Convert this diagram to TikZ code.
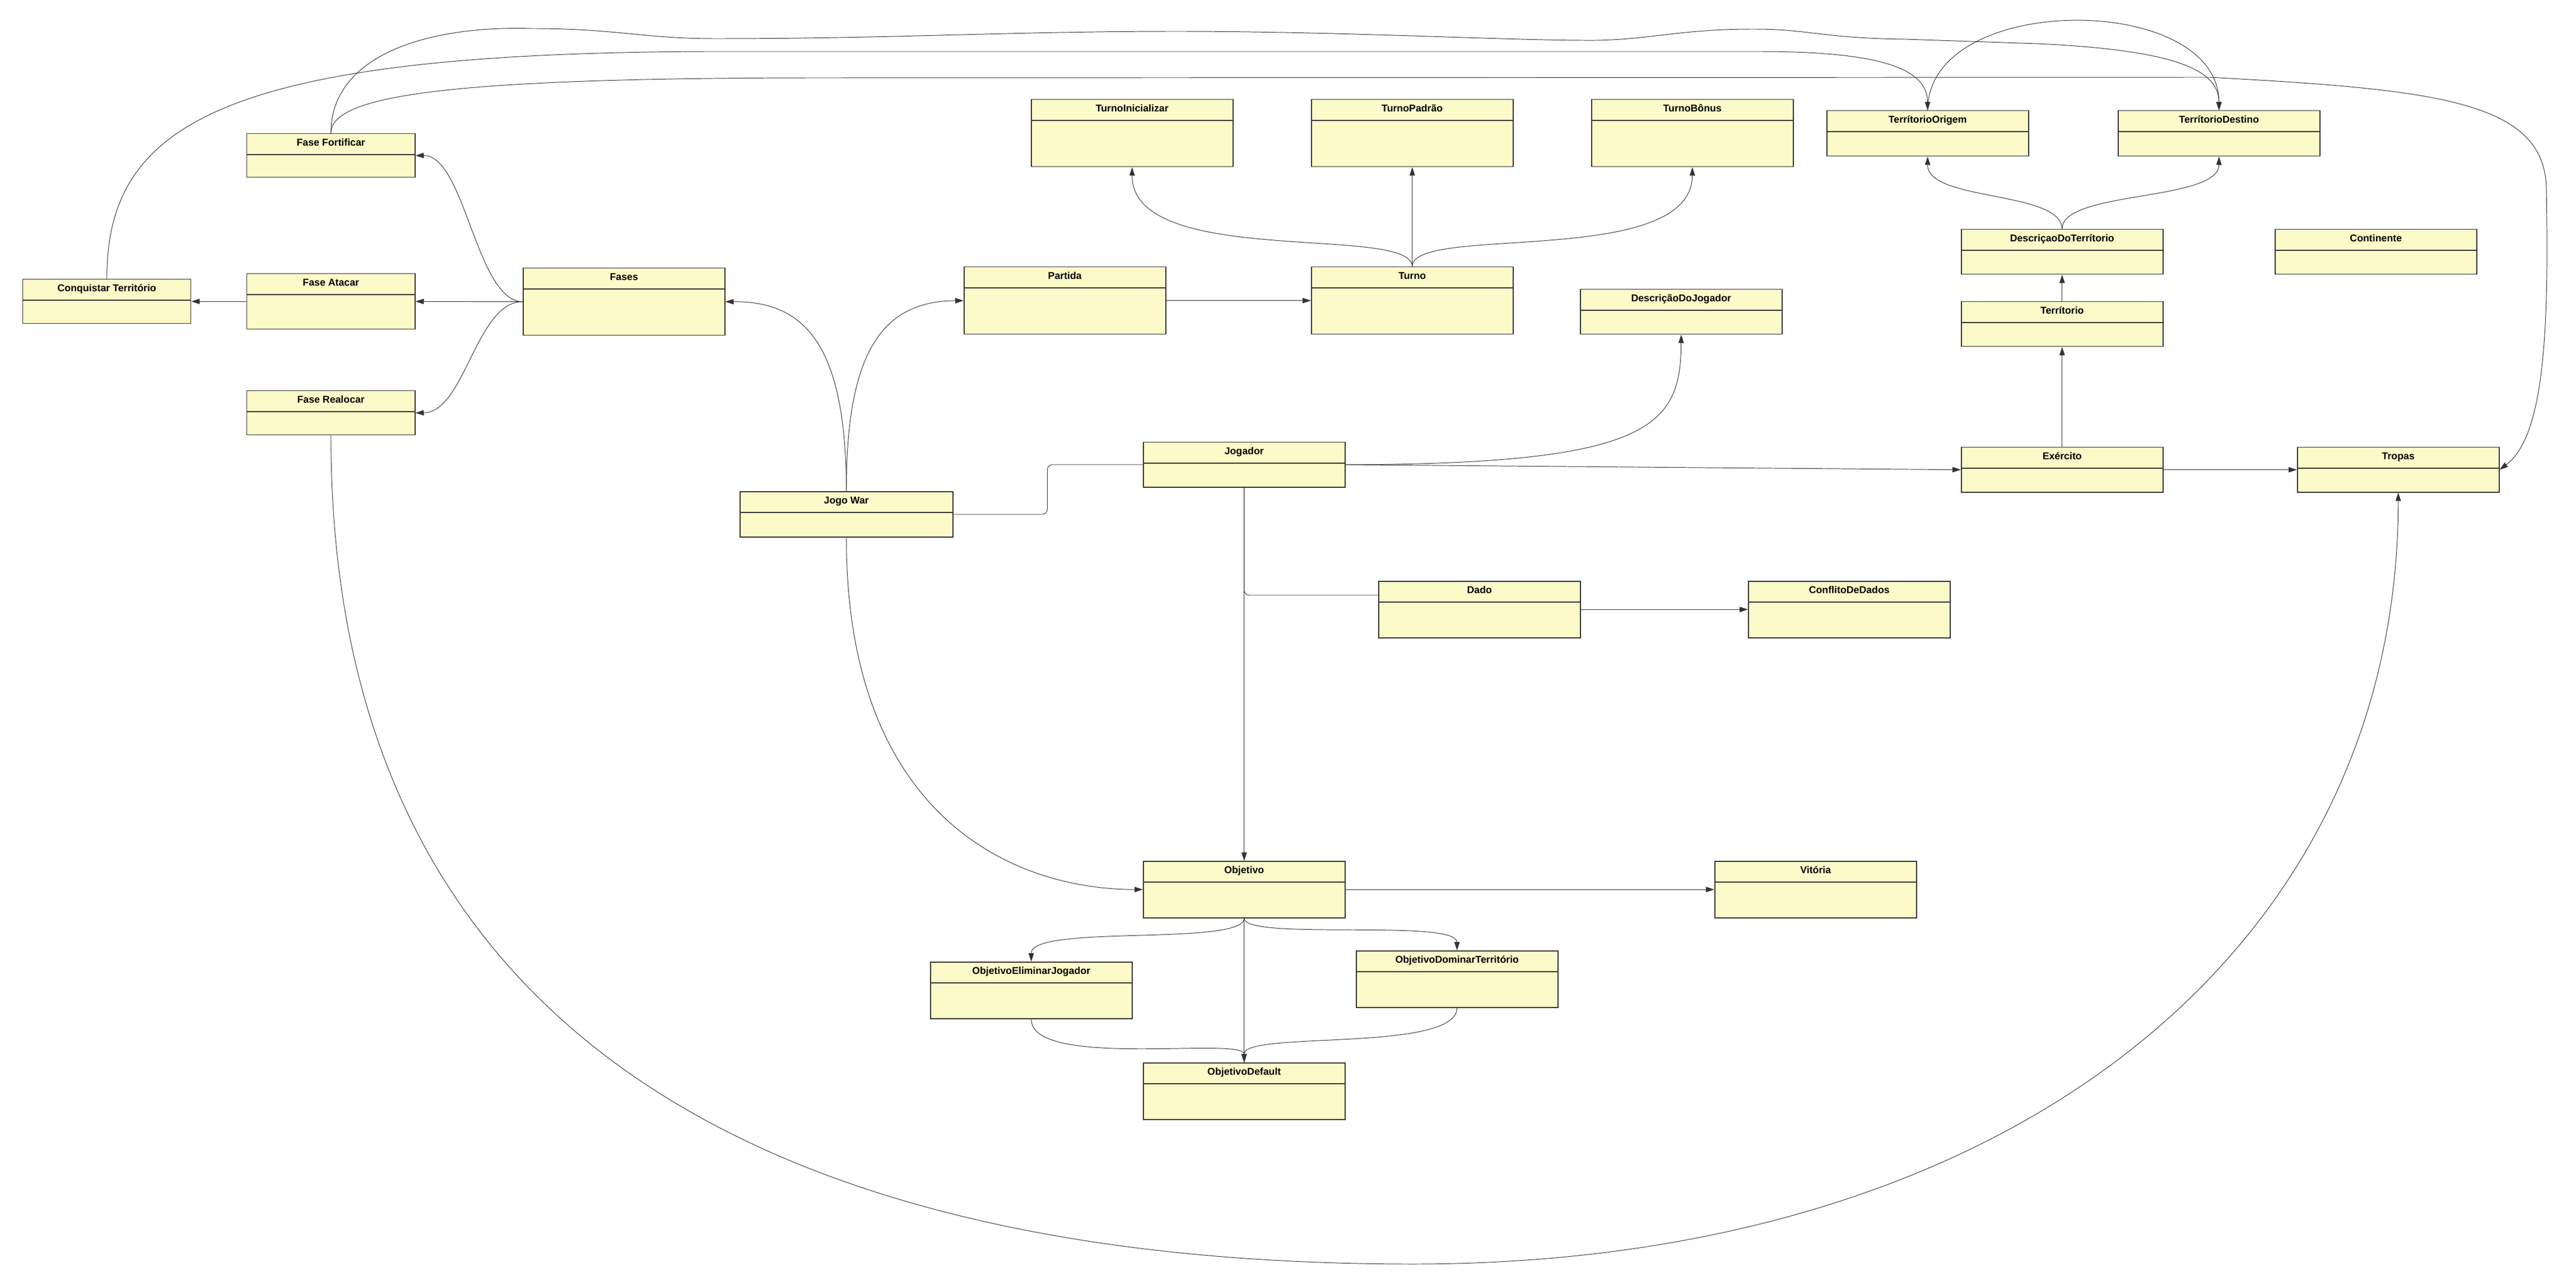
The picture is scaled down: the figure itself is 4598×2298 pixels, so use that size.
\documentclass[tikz,border=0pt]{standalone}
\usepackage{fontspec}
\setmainfont{Liberation Sans}
\usetikzlibrary{arrows.meta}
\definecolor{umlfill}{HTML}{FBFAC8}
\definecolor{umlline}{HTML}{333333}

\begin{document}
\begin{tikzpicture}[
    x=0.02cm, y=-0.02cm,
    umlbox/.style={rectangle, draw=umlline, fill=umlfill, line width=0.85pt, inner sep=0pt},
    divider/.style={draw=umlline, line width=0.85pt},
    umltitle/.style={font=\bfseries\fontsize{10.1}{12}\selectfont, inner sep=0pt},
    conn/.style={draw=umlline, line width=0.55pt},
    arrow/.style={conn, -{Triangle[length=0.3cm, width=0.19cm]}}
  ]

  % Canvas
  \fill[white] (0,0) rectangle (4598,2298);
  \useasboundingbox (0,0) rectangle (4598,2298);

  % Classes
  \foreach \id/\x/\y/\bw/\bh/\txt in {
      fortificar/440/238/300/78/Fase Fortificar,
      conquistar/40/498/300/79/Conquistar Território,
      atacar/440/488/300/99/Fase Atacar,
      fases/933/478/360/120/Fases,
      realocar/440/697/300/79/Fase Realocar,
      jogo/1320/877/380/81/Jogo War,
      partida/1720/476/360/120/Partida,
      turno/2340/476/360/120/Turno,
      inicializar/1840/177/360/120/TurnoInicializar,
      padrao/2340/177/360/120/TurnoPadrão,
      bonus/2840/177/360/120/TurnoBônus,
      descjogador/2820/516/360/80/DescriçãoDoJogador,
      jogador/2040/789/360/80/Jogador,
      dado/2460/1037/360/101/Dado,
      conflito/3120/1037/360/101/ConflitoDeDados,
      objetivo/2040/1537/360/101/Objetivo,
      vitoria/3060/1537/360/101/Vitória,
      eliminar/1660/1717/360/101/ObjetivoEliminarJogador,
      dominar/2420/1697/360/101/ObjetivoDominarTerritório,
      objdefault/2040/1897/360/101/ObjetivoDefault,
      origem/3260/197/360/81/TerrítorioOrigem,
      destino/3780/197/360/81/TerrítorioDestino,
      desc/3500/409/360/80/DescriçaoDoTerrítorio,
      continente/4060/409/360/80/Continente,
      territorio/3500/538/360/80/Terrítorio,
      exercito/3500/798/360/80/Exército,
      tropas/4100/798/360/80/Tropas} {
      \node[umlbox, anchor=north west, minimum width=\bw*0.02cm, minimum height=\bh*0.02cm] (\id) at (\x,\y) {};
      \draw[divider] ([yshift=-0.76cm]\id.north west) -- ([yshift=-0.76cm]\id.north east);
      \node[umltitle, anchor=base] (\id-title) at ([yshift=-0.454cm]\id.north) {\txt};
    }

  % Fases
  \draw[arrow] (fases.west) .. controls (850,538) and (830,277) .. (fortificar.east);
  \draw[arrow] (fases.west) -- (atacar.east);
  \draw[arrow] (fases.west) .. controls (850,538) and (830,736) .. (realocar.east);
  \draw[arrow] (atacar.west) -- (conquistar.east);

  % Jogo War
  \draw[arrow] (jogo.north) .. controls (1510,620) and (1440,538) .. (fases.east);
  \draw[arrow] (jogo.north) .. controls (1510,620) and (1580,538) .. (partida.west);
  \draw[conn, rounded corners=5pt] (jogo.east) -- ++(168,0) |- (jogador.west);
  \draw[arrow] (jogo.south) .. controls (1510,1450) and (1800,1588) .. (objetivo.west);
  \draw[arrow] (partida.east) -- (turno.west);

  % Turnos
  \draw[arrow] (turno.north) .. controls (2520,400) and (2020,480) .. (inicializar.south);
  \draw[arrow] (turno.north) -- (padrao.south);
  \draw[arrow] (turno.north) .. controls (2520,400) and (3020,480) .. (bonus.south);

  % Jogador
  \draw[arrow] (jogador.east) .. controls (2950,829) and (3000,760) .. (descjogador.south);
  \draw[arrow] (jogador.east) -- (exercito.west);
  \draw[arrow] (jogador.south) -- (objetivo.north);
  \draw[conn, rounded corners=5pt] (jogador.south) |- ([yshift=0.51cm]dado.west);
  \draw[arrow] (dado.east) -- (conflito.west);

  % Objetivos
  \draw[arrow] (objetivo.east) -- (vitoria.west);
  \draw[arrow] (objetivo.south) .. controls (2220,1690) and (1840,1650) .. (eliminar.north);
  \draw[arrow] (objetivo.south) .. controls (2220,1680) and (2600,1640) .. (dominar.north);
  \draw[arrow] (objetivo.south) -- (objdefault.north);
  \draw[arrow] (eliminar.south) .. controls (1840,1910) and (2220,1850) .. (objdefault.north);
  \draw[arrow] (dominar.south) .. controls (2600,1880) and (2220,1840) .. (objdefault.north);

  % Territorios
  \draw[arrow] (exercito.north) -- (territorio.south);
  \draw[arrow] (territorio.north) -- (desc.south);
  \draw[arrow] (desc.north) .. controls (3680,340) and (3440,360) .. (origem.south);
  \draw[arrow] (desc.north) .. controls (3680,340) and (3960,360) .. (destino.south);
  \draw[arrow] (exercito.east) -- (tropas.west);
  \draw[arrow] (origem.north) .. controls (3440,-15) and (3960,-15) .. (destino.north);

  % Long connectors over the top
  \draw[arrow] (conquistar.north) .. controls (190,220) and (400,95) .. (1261,92)
    -- (3138,92) .. controls (3350,92) and (3440,120) .. (origem.north);
  \draw[arrow] (fortificar.north) .. controls (590,100) and (760,45) .. (950,51)
    .. controls (1100,51) and (1150,69) .. (1276,69)
    .. controls (1600,69) and (1800,56) .. (2100,56)
    .. controls (2400,56) and (2700,73) .. (2850,72)
    .. controls (2950,70) and (3000,52) .. (3130,52)
    .. controls (3230,52) and (3250,68) .. (3400,70)
    -- (3636,78) .. controls (3900,90) and (3960,130) .. (destino.north);
  \draw[arrow] (fortificar.north) .. controls (590,170) and (800,139) .. (1466,139)
    -- (3944,138) .. controls (4350,160) and (4545,180) .. (4545,340)
    .. controls (4550,600) and (4540,780) .. (tropas.east);

  % Long connector underneath
  \draw[arrow] (realocar.south) .. controls (590,1753) and (1247,2257) .. (2522,2257)
    .. controls (3577,2257) and (4280,1705) .. (tropas.south);

\end{tikzpicture}
\end{document}
